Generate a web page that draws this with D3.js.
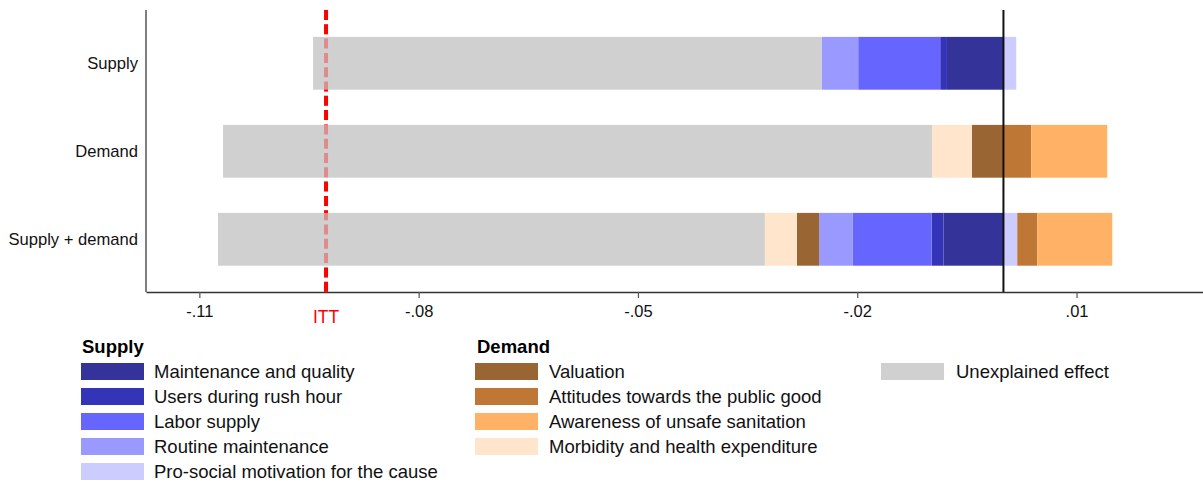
<!DOCTYPE html>
<html>
<head>
<meta charset="utf-8">
<script src="https://cdn.jsdelivr.net/npm/d3@7"></script>
<style>
  html, body { margin: 0; padding: 0; background: #fff; }
  svg { display: block; font-family: "Liberation Sans", Arial, Helvetica, sans-serif; }
</style>
</head>
<body>
<svg id="chart" width="1203" height="484"></svg>
<script>
// ---- Data ----
const categories = ["Supply", "Demand", "Supply + demand"];
const seriesKeys = ["maintenance", "users", "labor", "routine", "prosocial",
                    "valuation", "attitudes", "awareness", "morbidity", "unexplained"];
const seriesLabels = {
  maintenance: "Maintenance and quality",
  users: "Users during rush hour",
  labor: "Labor supply",
  routine: "Routine maintenance",
  prosocial: "Pro-social motivation for the cause",
  valuation: "Valuation",
  attitudes: "Attitudes towards the public good",
  awareness: "Awareness of unsafe sanitation",
  morbidity: "Morbidity and health expenditure",
  unexplained: "Unexplained effect"
};
const maintenance = [-0.00773, 0,        -0.00820];
const users       = [-0.00092, 0,        -0.00164];
const labor       = [-0.01122, 0,        -0.01081];
const routine     = [-0.00502, 0,        -0.00456];
const prosocial   = [ 0.00175, 0,         0.00189];
const valuation   = [ 0,      -0.00431,  -0.00305];
const attitudes   = [ 0,       0.00380,   0.00274];
const awareness   = [ 0,       0.01040,   0.01026];
const morbidity   = [ 0,      -0.00547,  -0.00438];
const unexplained = [-0.06955, -0.09698, -0.07481];
const ittValue = -0.09267;
const tickValues = [-0.11, -0.08, -0.05, -0.02, 0.01];
const tickLabels = ["-.11", "-.08", "-.05", "-.02", ".01"];
const supplyLegend = ["maintenance", "users", "labor", "routine", "prosocial"];
const demandLegend = ["valuation", "attitudes", "awareness", "morbidity"];
const otherLegend = ["unexplained"];

const colors = {
  maintenance: "#333399",
  users: "#3434b8",
  labor: "#6666ff",
  routine: "#9999ff",
  prosocial: "#ccccff",
  valuation: "#996633",
  attitudes: "#bf7735",
  awareness: "#ffb266",
  morbidity: "#ffe5cc",
  unexplained: "#d0d0d0"
};

const seriesArrays = { maintenance, users, labor, routine, prosocial,
                       valuation, attitudes, awareness, morbidity, unexplained };
const rows = categories.map((c, i) => {
  const r = { category: c };
  seriesKeys.forEach(k => r[k] = seriesArrays[k][i]);
  return r;
});

// ---- Layout ----
const svg = d3.select("#chart");
const plotLeft = 146, plotRight = 1203, plotTop = 10, plotBottom = 292;

const x = d3.scaleLinear().domain([-0.1173, 0.0273]).range([plotLeft, plotRight]);
const y = d3.scaleBand().domain(categories).range([19.3, 283.3])
  .paddingInner(0.4).paddingOuter(0.2);

const stack = d3.stack().keys(seriesKeys).offset(d3.stackOffsetDiverging);
const stacked = stack(rows);

// ITT line underneath (hidden by bars)
const ittX = x(ittValue);
function ittLine(opacity) {
  svg.append("line")
    .attr("x1", ittX).attr("x2", ittX)
    .attr("y1", plotTop).attr("y2", plotBottom)
    .attr("stroke", "#ff0000")
    .attr("stroke-width", 4)
    .attr("stroke-opacity", opacity)
    .attr("stroke-dasharray", "10,4.3");
}
ittLine(1);

// Bars
svg.append("g").selectAll("g")
  .data(stacked)
  .join("g")
  .attr("fill", d => colors[d.key])
  .selectAll("rect")
  .data(d => d)
  .join("rect")
  .attr("x", d => x(Math.min(d[0], d[1])))
  .attr("width", d => Math.abs(x(d[1]) - x(d[0])))
  .attr("y", d => y(d.data.category))
  .attr("height", y.bandwidth());

// ITT line on top, translucent (pinkish over bars)
ittLine(0.33);

// Zero line
svg.append("line")
  .attr("x1", x(0)).attr("x2", x(0))
  .attr("y1", plotTop).attr("y2", plotBottom)
  .attr("stroke", "#111")
  .attr("stroke-width", 2);

// Axes
const xAxis = d3.axisBottom(x)
  .tickValues(tickValues)
  .tickSize(6)
  .tickPadding(7)
  .tickSizeOuter(0)
  .tickFormat((d, i) => tickLabels[i]);

const gx = svg.append("g")
  .attr("transform", `translate(0,${plotBottom})`)
  .call(xAxis);
gx.select(".domain").attr("stroke", "#333").attr("stroke-width", 1.5);
gx.selectAll(".tick line").attr("stroke", "#555").attr("stroke-width", 1.2);
gx.selectAll(".tick text").attr("font-size", 16.5).attr("fill", "#111")
  .attr("font-family", "'Liberation Sans', Arial, sans-serif");

// Y axis line
svg.append("line")
  .attr("x1", plotLeft).attr("x2", plotLeft)
  .attr("y1", plotTop).attr("y2", plotBottom)
  .attr("stroke", "#555").attr("stroke-width", 1.5);

// Category labels
svg.append("g").selectAll("text")
  .data(categories)
  .join("text")
  .attr("x", 138)
  .attr("y", d => y(d) + y.bandwidth() / 2)
  .attr("dy", "0.35em")
  .attr("text-anchor", "end")
  .attr("font-size", 16.6)
  .attr("fill", "#111")
  .text(d => d);

// ITT label
svg.append("text")
  .attr("x", ittX).attr("y", 323)
  .attr("text-anchor", "middle")
  .attr("font-size", 17.5)
  .attr("fill", "#ff0000")
  .text("ITT");

// Legend
const rowTop = 363, rowStep = 25, swW = 63, swH = 17;
function legendColumn(keys, swX, textX, title, titleX) {
  if (title) {
    svg.append("text")
      .attr("x", titleX).attr("y", 353)
      .attr("font-size", 18.5).attr("font-weight", "bold")
      .attr("fill", "#000")
      .text(title);
  }
  const g = svg.append("g");
  keys.forEach((k, i) => {
    const top = rowTop + i * rowStep;
    g.append("rect")
      .attr("x", swX).attr("y", top)
      .attr("width", swW).attr("height", swH)
      .attr("fill", colors[k]);
    g.append("text")
      .attr("x", textX).attr("y", top + swH / 2)
      .attr("dy", "0.36em")
      .attr("font-size", 18.5)
      .attr("fill", "#111")
      .text(seriesLabels[k]);
  });
}
legendColumn(supplyLegend, 81, 154, "Supply", 82);
legendColumn(demandLegend, 475, 549, "Demand", 477);
legendColumn(otherLegend, 881, 956, null, 0);
</script>
</body>
</html>
